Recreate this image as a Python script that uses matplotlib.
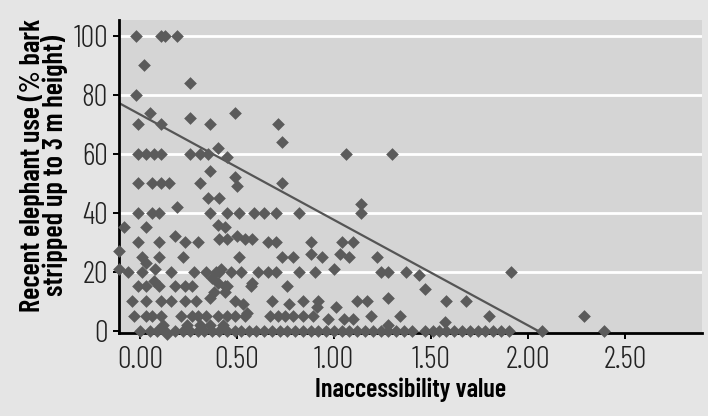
import matplotlib
matplotlib.use("Agg")
import matplotlib.pyplot as plt

# ---- data ----
inaccessibility = [
    # upper points
    -0.02, 0.11, 0.13, 0.19, 0.02, 0.26, -0.02, 0.05, 0.49, 0.26,
    -0.01, 0.11, 0.36, 0.71, 0.73, 0.40, 0.45,
    -0.01, 0.03, 0.07, 0.11, 0.26, 0.31, 0.35, 1.06, 1.30,
    0.36, 0.49, 0.50, 0.73, -0.01, 0.06, 0.11, 0.15, 0.31,
    0.35, 0.41, 1.14, 1.14, 0.19,
    # ~40
    -0.01, 0.06, 0.10, 0.36, 0.45, 0.51, 0.59, 0.64, 0.70, 0.82,
    # ~35
    -0.08, 0.03, 0.40, 0.44,
    # ~30
    -0.01, 0.10, 0.18, 0.23, 0.30, 0.41, 0.45, 0.50, 0.54, 0.58, 0.66, 0.70, 0.88, 1.04, 1.10,
    -0.11,
    # ~25
    0.01, 0.10, 0.22, 0.03, 0.51, 0.73, 0.79, 0.88, 0.94, 1.03, 1.08, 1.22,
    # ~20
    -0.11, -0.06, 0.01, 0.08, 0.16, 0.28, 0.34, 0.39, 0.42, 0.47, 0.52, 0.61, 0.66, 0.70,
    0.82, 0.90, 1.00, 1.24, 1.28, 1.37, 1.44, 1.91,
    # diagonal cluster
    0.41, 0.40, 0.38, 0.36, 0.45, 0.44, 0.37,
    # ~15
    -0.01, 0.03, 0.07, 0.10, 0.18, 0.23, 0.27, 0.44, 0.57, 0.58, 0.76, 1.47,
    # ~10
    -0.04, 0.03, 0.11, 0.16, 0.23, 0.29, 0.49, 0.53, 0.68, 0.77, 0.84, 0.91, 0.92, 1.01,
    1.12, 1.17, 1.28, 1.58, 1.68,
    # ~5
    -0.03, 0.03, 0.06, 0.11, 0.21, 0.27, 0.30, 0.34, 0.40, 0.45, 0.49, 0.54, 0.55, 0.67,
    0.71, 0.75, 0.79, 0.84, 0.89, 0.97, 1.05, 1.10, 1.19, 1.34, 1.80, 2.29, 1.57,
    # ~2
    0.12, 0.24, 0.31, 0.36, 0.43, 0.11, 1.28, 0.14,
    # 0
    0.00, 0.05, 0.09, 0.13, 0.18, 0.22, 0.26, 0.30, 0.33, 0.37, 0.41, 0.45, 0.49, 0.52,
    0.56, 0.60, 0.64, 0.68, 0.72, 0.76, 0.80, 0.84, 0.88, 0.92, 0.96, 1.00, 1.04, 1.08,
    1.12, 1.16, 1.20, 1.24, 1.28, 1.32, 1.36, 1.40, 1.47, 1.51, 1.54, 1.58, 1.62, 1.66,
    1.70, 1.74, 1.78, 1.82, 1.86, 1.90, 2.07, 2.39,
]
bark_stripped = [
    100, 100, 100, 100, 90, 84, 80, 74, 74, 72,
    70, 70, 70, 70, 64, 62, 59,
    60, 60, 60, 60, 60, 60, 60, 60, 60,
    54, 52, 49, 50, 50, 50, 50, 50, 50,
    45, 45, 43, 40, 42,
    40, 40, 40, 40, 40, 40, 40, 40, 40, 40,
    35, 35, 36, 35,
    30, 30, 32, 30, 30, 31, 31, 32, 31, 31, 30, 30, 30, 30, 30,
    27,
    25, 25, 25, 23, 25, 25, 25, 26, 25, 26, 25, 25,
    21, 20, 20, 21, 20, 20, 20, 20, 21, 20, 20, 20, 20, 20,
    20, 20, 21, 20, 20, 20, 19, 20,
    20, 16, 13, 11, 15, 13, 18,
    15, 15, 17, 15, 15, 15, 15, 15, 15, 16, 15, 14,
    10, 10, 10, 10, 10, 10, 10, 9, 10, 9, 10, 8, 10, 8,
    10, 10, 11, 10, 10,
    5, 5, 5, 5, 5, 5, 5, 5, 5, 5, 5, 5, 6, 5,
    5, 5, 5, 5, 5, 4, 4, 4, 5, 5, 5, 5, 3,
    2, 2, 2, 2, 2, 1, 2, -1,
    0, 0, 0, 0, 0, 0, 0, 0, 0, 0, 0, 0, 0, 0,
    0, 0, 0, 0, 0, 0, 0, 0, 0, 0, 0, 0, 0, 0,
    0, 0, 0, 0, 0, 0, 0, 0, 0, 0, 0, 0, 0, 0,
    0, 0, 0, 0, 0, 0, 0, 0,
]
trend_x = [-0.11, 2.05]
trend_y = [77.3, 0.0]
x_ticks = [0.0, 0.5, 1.0, 1.5, 2.0, 2.5]
x_tick_labels = ["0.00", "0.50", "1.00", "1.50", "2.00", "2.50"]
y_ticks = [0, 20, 40, 60, 80, 100]
y_tick_labels = ["0", "20", "40", "60", "80", "100"]

FIG_BG = "#e5e5e5"
AX_BG = "#d5d5d5"
MARK = "#5b5b5b"
TICK_FONT = ["Barlow Condensed", "DejaVu Sans"]

fig = plt.figure(figsize=(7.08, 4.16), dpi=100, facecolor=FIG_BG)
ax = fig.add_axes([119 / 708, 1 - 333 / 416, (702 - 119) / 708, (333 - 20) / 416])
ax.set_facecolor(AX_BG)

ax.set_xlim(-0.108, 2.897)
ax.set_ylim(-0.8, 105.4)

for yv in y_ticks[1:]:
    ax.axhline(yv, color="white", lw=2.0, zorder=1)

ax.plot(trend_x, trend_y, color="#555555", lw=1.6, zorder=2)
ax.scatter(inaccessibility, bark_stripped, marker="D", s=42, color=MARK,
           linewidths=0, zorder=3, clip_on=False)

for side in ("top", "right"):
    ax.spines[side].set_visible(False)
for side in ("left", "bottom"):
    ax.spines[side].set_color("black")
    ax.spines[side].set_linewidth(2.0)
    ax.spines[side].set_zorder(2.5)

ax.set_xticks(x_ticks)
ax.set_xticklabels(x_tick_labels)
ax.set_yticks(y_ticks)
ax.set_yticklabels(y_tick_labels)
ax.tick_params(axis="both", direction="out", length=4, width=1.4, color="black",
               labelsize=22, labelcolor="#222222")
ax.tick_params(axis="x", pad=5)
ax.tick_params(axis="y", pad=4)
for lab in ax.get_xticklabels() + ax.get_yticklabels():
    lab.set_family(TICK_FONT)
    lab.set_fontweight(300)

ax.set_xlabel("Inaccessibility value", fontsize=19, fontweight=600,
              family=TICK_FONT, color="black", labelpad=3)
ax.set_ylabel("Recent elephant use (% bark\nstripped up to 3 m height)",
              fontsize=20.5, fontweight=600, family=TICK_FONT, color="black",
              linespacing=0.8)
ax.yaxis.set_label_coords(-0.088, 0.535)

fig.savefig("out.png", dpi=100, facecolor=FIG_BG)
